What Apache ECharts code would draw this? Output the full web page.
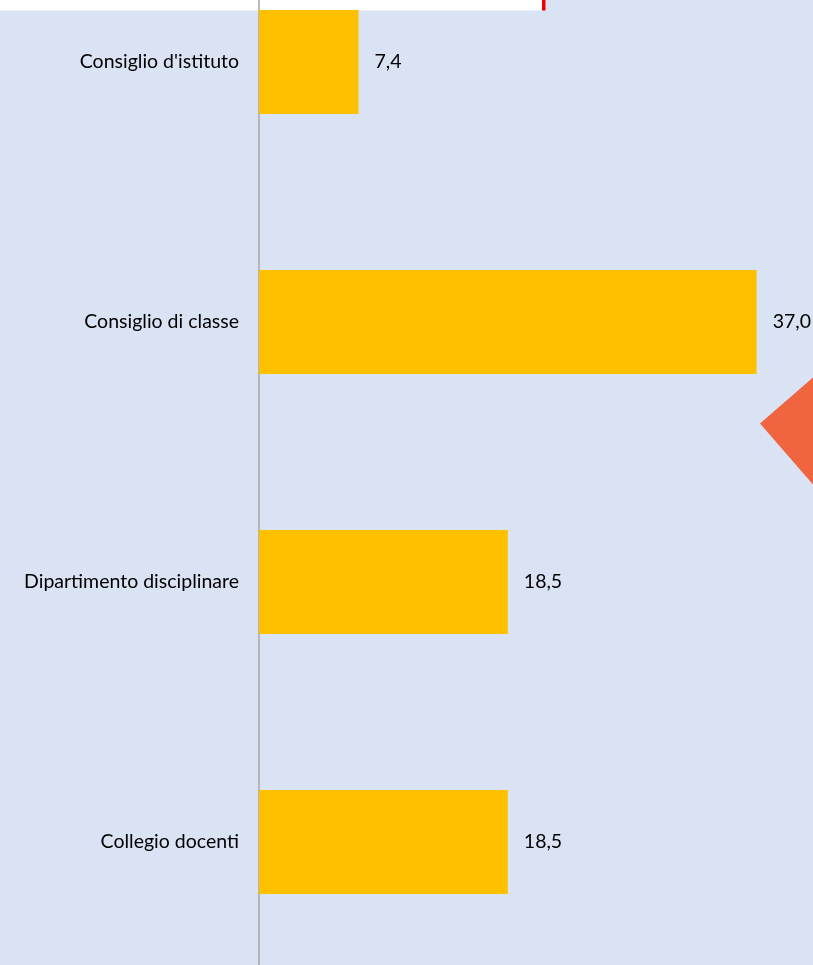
<!DOCTYPE html>
<html><head><meta charset="utf-8">
<script src="https://cdn.jsdelivr.net/npm/echarts@6/dist/echarts.min.js"></script>
<style>html,body{margin:0;padding:0;background:#DAE3F3;overflow:hidden}#c{width:813px;height:1040px;margin-top:-68.5px}</style>
</head><body><div id="c"></div>
<script>
const categories = ["Consiglio d'istituto", "Consiglio di classe", "Dipartimento disciplinare", "Collegio docenti"];
const values = [7.4, 37.0, 18.5, 18.5];

const OY = 68.5;
const chart = echarts.init(document.getElementById('c'), null, {renderer: 'canvas'});
chart.setOption({
  backgroundColor: '#DAE3F3',
  animation: false,
  graphic: [
    {type: 'rect', z: -10, shape: {x: 0, y: OY - 10, width: 542, height: 20}, style: {fill: '#FFFFFF'}},
    {type: 'rect', z: -10, shape: {x: 542, y: OY - 10, width: 3.5, height: 20}, style: {fill: '#F00000'}},
    {type: 'polygon', z: -10, shape: {points: [[760, 423 + OY], [858, 338 + OY], [943, 436 + OY], [845, 521 + OY]]}, style: {fill: '#F0643F'}}
  ],
  grid: {left: 259, right: 16, top: 0, bottom: 0, containLabel: false},
  xAxis: {type: 'value', min: 0, max: 40, show: false},
  yAxis: {
    type: 'category', data: categories, inverse: true,
    axisLine: {show: true, lineStyle: {color: '#A6A6A6', width: 1.5}},
    axisTick: {show: false},
    axisLabel: {color: '#000000', fontSize: 19.5, margin: 20, fontFamily: 'Lato'}
  },
  series: [{
    type: 'bar', data: values, barWidth: 104,
    itemStyle: {color: '#FFC000'},
    label: {show: true, position: 'right', distance: 16, color: '#000000', fontSize: 19.5, fontFamily: 'Lato',
      formatter: p => p.value.toFixed(1).replace('.', ',')}
  }]
});
</script></body></html>
